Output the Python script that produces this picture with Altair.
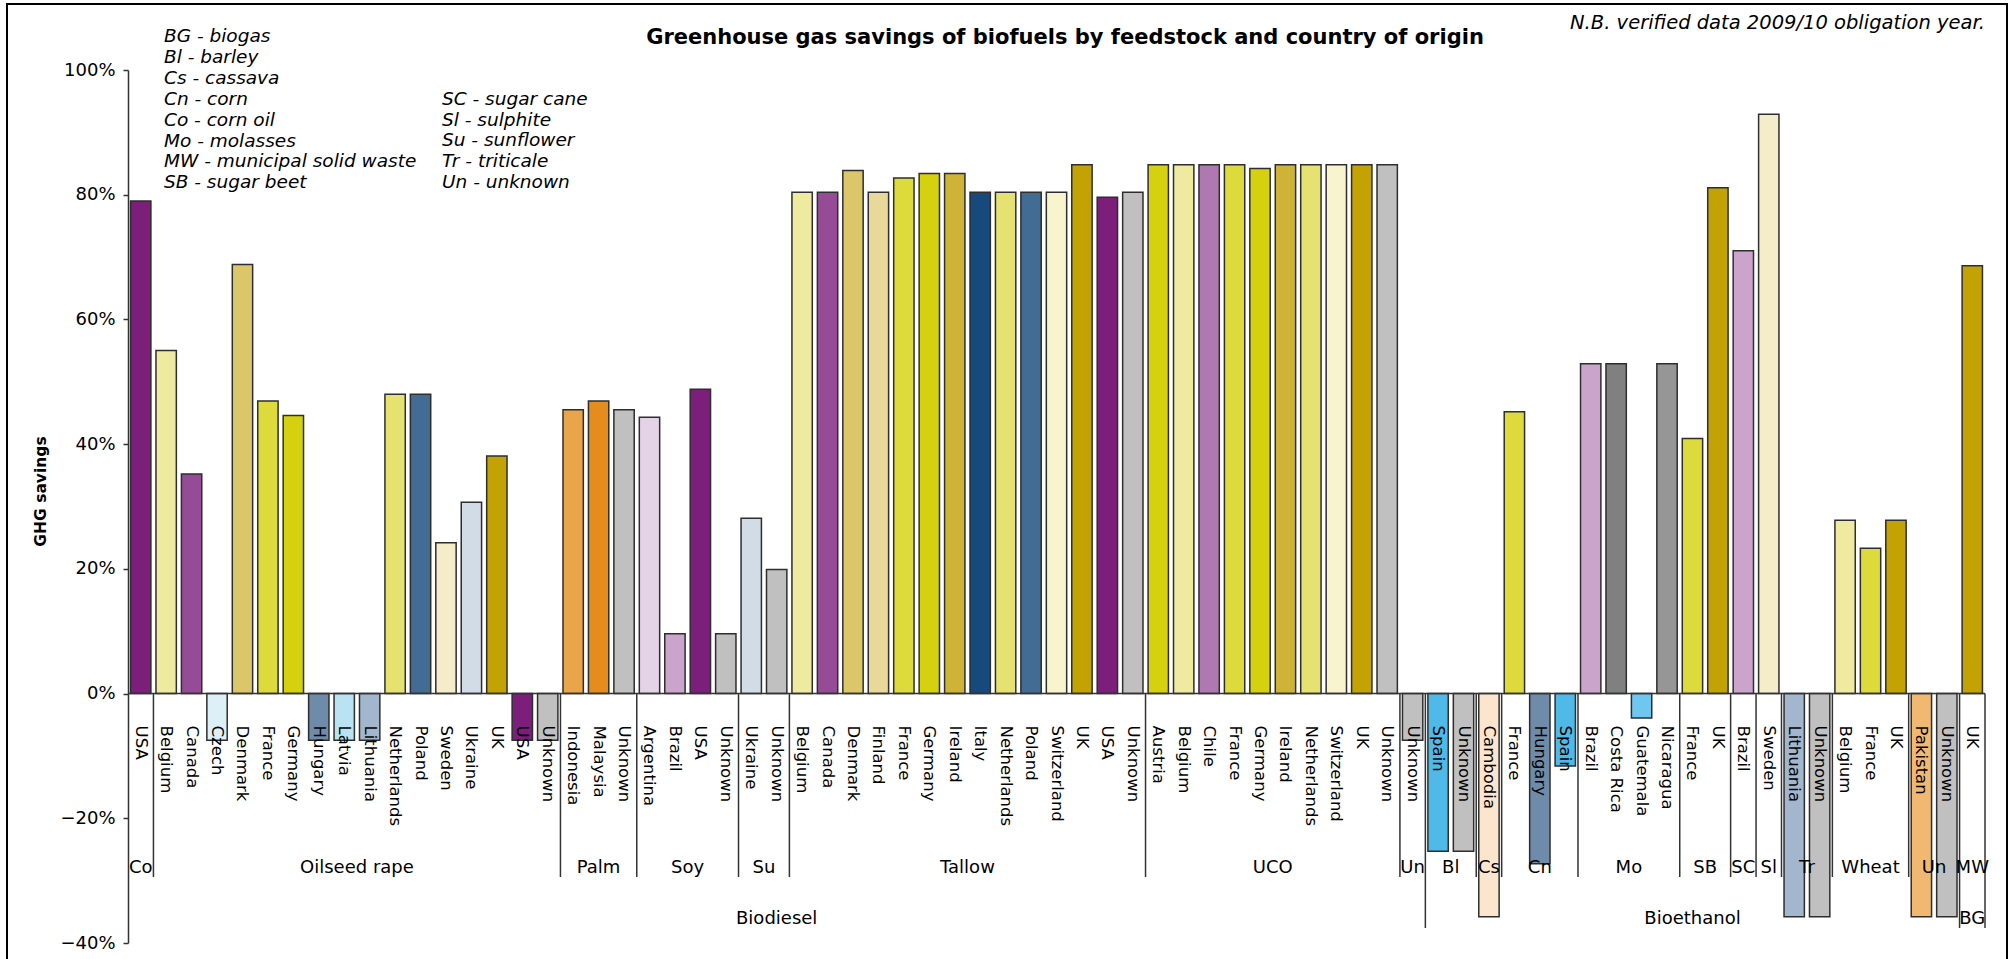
import altair as alt
import pandas as pd

# ---------------- data ----------------
group_fuel = ["Biodiesel"] * 8 + ["Bioethanol"] * 10 + ["BG"]
group_feedstock = ["Co", "Oilseed rape", "Palm", "Soy", "Su", "Tallow", "UCO", "Un",
                   "Bl", "Cs", "Cn", "Mo", "SB", "SC", "Sl", "Tr", "Wheat", "Un", "MW"]
group_countries = [
    ["USA"],
    ["Belgium", "Canada", "Czech", "Denmark", "France", "Germany", "Hungary", "Latvia",
     "Lithuania", "Netherlands", "Poland", "Sweden", "Ukraine", "UK", "USA", "Unknown"],
    ["Indonesia", "Malaysia", "Unknown"],
    ["Argentina", "Brazil", "USA", "Unknown"],
    ["Ukraine", "Unknown"],
    ["Belgium", "Canada", "Denmark", "Finland", "France", "Germany", "Ireland", "Italy",
     "Netherlands", "Poland", "Switzerland", "UK", "USA", "Unknown"],
    ["Austria", "Belgium", "Chile", "France", "Germany", "Ireland", "Netherlands",
     "Switzerland", "UK", "Unknown"],
    ["Unknown"],
    ["Spain", "Unknown"],
    ["Cambodia"],
    ["France", "Hungary", "Spain"],
    ["Brazil", "Costa Rica", "Guatemala", "Nicaragua"],
    ["France", "UK"],
    ["Brazil"],
    ["Sweden"],
    ["Lithuania", "Unknown"],
    ["Belgium", "France", "UK"],
    ["Pakistan", "Unknown"],
    ["UK"],
]
group_savings = [  # percent
    [79.0],
    [55.0, 35.2, -7.5, 68.8, 46.9, 44.6, -7.5, -7.5, -7.5, 48.0, 48.0, 24.2, 30.7, 38.1, -7.5, -7.5],
    [45.5, 46.9, 45.5],
    [44.3, 9.6, 48.8, 9.6],
    [28.1, 19.9],
    [80.4, 80.4, 83.9, 80.4, 82.7, 83.4, 83.4, 80.4, 80.4, 80.4, 80.4, 84.8, 79.6, 80.4],
    [84.8, 84.8, 84.8, 84.8, 84.2, 84.8, 84.8, 84.8, 84.8, 84.8],
    [-7.5],
    [-25.3, -25.3],
    [-35.8],
    [45.2, -27.3, -11.6],
    [52.9, 52.9, -3.9, 52.9],
    [40.9, 81.1],
    [71.0],
    [92.9],
    [-35.8, -35.8],
    [27.8, 23.3, 27.8],
    [-35.8, -35.8],
    [68.6],
]

country_colours = {
    "USA": "#7B1F7B", "Belgium": "#EEEBA0", "Canada": "#964B96", "Czech": "#DDF0F8",
    "Denmark": "#DBC66A", "France": "#DDDA3C", "Germany": "#D6D10E", "Hungary": "#6E8BAA",
    "Latvia": "#B9E3F3", "Lithuania": "#A2B6CE", "Netherlands": "#E5E272", "Poland": "#436C94",
    "Sweden": "#F5EDCA", "Ukraine": "#D2DCE6", "UK": "#C3A204", "Unknown": "#C0C0C0",
    "Indonesia": "#EAA54A", "Malaysia": "#E58C1C", "Argentina": "#E4D2E6", "Brazil": "#CBA4CC",
    "Finland": "#E8D99A", "Ireland": "#CFB336", "Italy": "#174A7C", "Switzerland": "#F7F4CE",
    "Austria": "#D6D10E", "Chile": "#AF78B1", "Spain": "#4FBAE8", "Cambodia": "#FBE6CD",
    "Costa Rica": "#808080", "Guatemala": "#6FC6EE", "Nicaragua": "#969696", "Pakistan": "#F0B870",
}

legend_col1 = ["BG - biogas", "Bl - barley", "Cs - cassava", "Cn - corn", "Co - corn oil",
               "Mo - molasses", "MW - municipal solid waste", "SB - sugar beet"]
legend_col2 = ["SC - sugar cane", "Sl - sulphite", "Su - sunflower", "Tr - triticale", "Un - unknown"]

title_text = "Greenhouse gas savings of biofuels by feedstock and country of origin"
note_text = "N.B. verified data 2009/10 obligation year."
y_ticks = [-0.4, -0.2, 0.0, 0.2, 0.4, 0.6, 0.8, 1.0]

# ---------------- tables built from the arrays ----------------
rows, feeds, seps = [], [], []
i = 0
for g, (fuel, feed, cs, vs) in enumerate(zip(group_fuel, group_feedstock, group_countries, group_savings)):
    start = i
    for c, v in zip(cs, vs):
        rows.append(dict(idx=i, x0=i - 0.4, x1=i + 0.4, country=c, val=v / 100.0,
                         col=country_colours[c], feed=feed, fuel=fuel))
        i += 1
    feeds.append(dict(center=(start + i - 1) / 2.0, feed=feed))
    if g > 0:
        kind = "fuel" if group_fuel[g - 1] != fuel else "feed"
        seps.append(dict(pos=start - 0.5, kind=kind))
seps.append(dict(pos=i - 0.5, kind="fuel"))
n = i

df = pd.DataFrame(rows)
df_feed = pd.DataFrame(feeds)
df_fuel = df.groupby("fuel", sort=False)["idx"].agg(["min", "max"]).reset_index()
df_fuel["center"] = (df_fuel["min"] + df_fuel["max"]) / 2.0
df_sep = pd.DataFrame(seps)
one = pd.DataFrame({"a": [0]})

W, H = 1857, 873
FONT = "DejaVu Sans"
xs = alt.Scale(domain=[-0.5, n - 0.5], nice=False, zero=False)
ys = alt.Scale(domain=[-0.4, 1.0], nice=False, zero=False)

bars = alt.Chart(df).mark_bar(stroke="#2e2e2e", strokeWidth=1.5).encode(
    x=alt.X("x0:Q", scale=xs, axis=None),
    x2="x1:Q",
    y=alt.Y("val:Q", scale=ys, axis=alt.Axis(
        values=y_ticks, format=".0%", grid=False,
        labelFont=FONT, labelFontSize=18, labelColor="#000", labelPadding=8,
        tickSize=5, tickColor="#333", tickWidth=1.5, domainColor="#333", domainWidth=1.5,
        title="GHG savings", titleFont=FONT, titleFontSize=15.5, titleFontWeight="bold",
        titleColor="#000", titleX=-88, titleY=421, titleAngle=270,
        titleAlign="center", titleBaseline="middle")),
    y2=alt.datum(0),
    color=alt.Color("col:N", scale=None),
)

zero = alt.Chart(one).mark_rule(color="#333", strokeWidth=1.5).encode(
    y=alt.datum(0), x=alt.value(0), x2=alt.value(W))

country_lbl = alt.Chart(df).mark_text(
    angle=90, align="left", baseline="middle", dx=32, font=FONT, fontSize=16.5, color="#000"
).encode(x=alt.X("idx:Q", scale=xs), y=alt.datum(0), text="country:N")

feed_sep = alt.Chart(df_sep).mark_rule(color="#333", strokeWidth=1.5).encode(
    x=alt.X("pos:Q", scale=xs), y=alt.datum(0), y2=alt.value(807)
).transform_filter(alt.datum.kind == "feed")

fuel_sep = alt.Chart(df_sep).mark_rule(color="#333", strokeWidth=1.5).encode(
    x=alt.X("pos:Q", scale=xs), y=alt.datum(0), y2=alt.value(858)
).transform_filter(alt.datum.kind == "fuel")

feed_lbl = alt.Chart(df_feed).mark_text(
    align="center", baseline="middle", font=FONT, fontSize=18, color="#000"
).encode(x=alt.X("center:Q", scale=xs), y=alt.value(798), text="feed:N")

fuel_lbl = alt.Chart(df_fuel).mark_text(
    align="center", baseline="middle", font=FONT, fontSize=18, color="#000"
).encode(x=alt.X("center:Q", scale=xs), y=alt.value(849), text="fuel:N")

title = alt.Chart(one).mark_text(
    align="center", baseline="middle", font=FONT, fontSize=21, fontWeight="bold", color="#000",
    text=title_text
).encode(x=alt.value(937), y=alt.value(-32))

note = alt.Chart(one).mark_text(
    align="right", baseline="middle", font=FONT, fontSize=19.5, fontStyle="italic", color="#000",
    text=note_text
).encode(x=alt.value(W), y=alt.value(-47))

leg1 = alt.Chart(one).mark_text(
    align="left", baseline="top", font=FONT, fontSize=18.5, fontStyle="italic", color="#000",
    lineHeight=20.9, text=legend_col1
).encode(x=alt.value(36), y=alt.value(-43))

leg2 = alt.Chart(one).mark_text(
    align="left", baseline="top", font=FONT, fontSize=18.5, fontStyle="italic", color="#000",
    lineHeight=20.9, text=legend_col2
).encode(x=alt.value(314), y=alt.value(19.7))

frame = alt.Chart(one).mark_rect(fillOpacity=0, stroke="#000", strokeWidth=2).encode(
    x=alt.value(-121), x2=alt.value(W + 22), y=alt.value(-66), y2=alt.value(H + 80))

chart = alt.layer(
    bars, zero, feed_sep, fuel_sep, country_lbl, feed_lbl, fuel_lbl,
    title, note, leg1, leg2, frame
).properties(
    width=W, height=H, autosize="none",
    padding={"left": 128, "top": 70, "right": 25, "bottom": 16},
    background="white",
).configure_view(stroke=None)

chart.save("out.html", embed_options={"renderer": "svg", "actions": False})
